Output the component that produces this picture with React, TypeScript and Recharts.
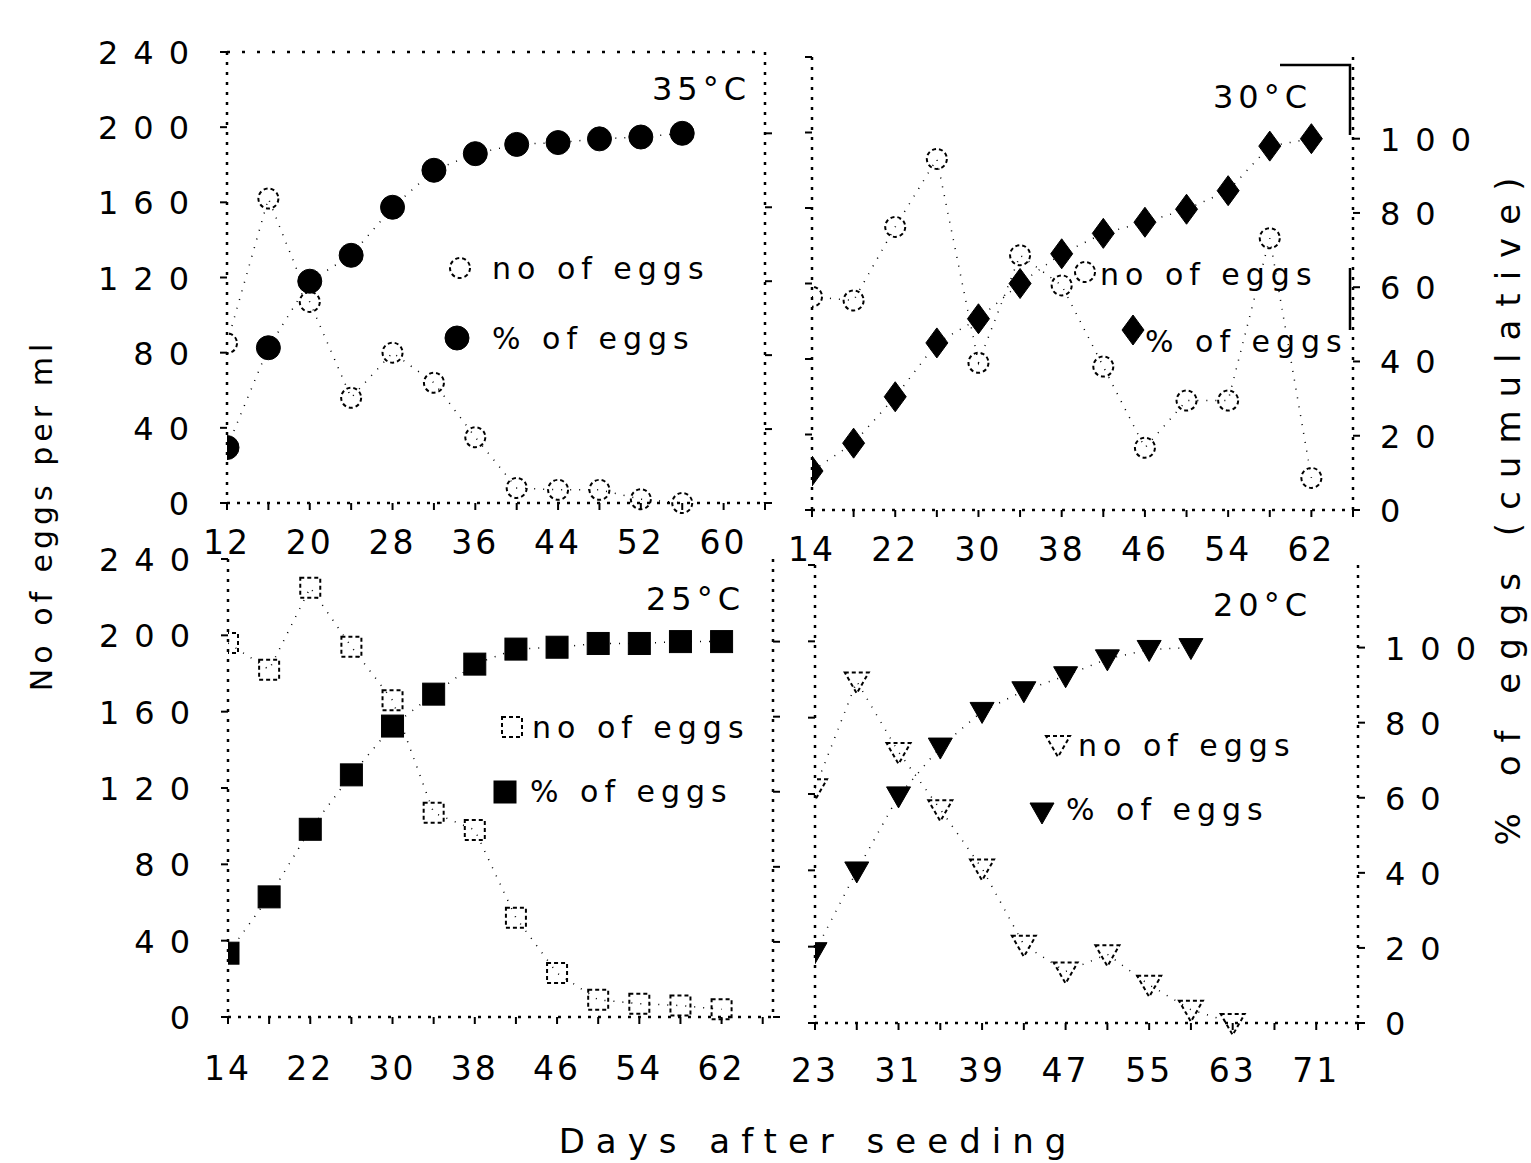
import { LineChart, Line, XAxis, YAxis, ReferenceLine } from 'recharts'

// 35°C
const daysTL = [12, 16, 20, 24, 28, 32, 36, 40, 44, 48, 52, 56]
const eggsTL = [85, 162, 107, 56, 80, 64, 35, 8, 7, 7, 2, 0]
const pctTL = [15, 42, 60, 67, 80, 90, 94.5, 97, 97.5, 98.5, 99, 100]

// 30°C
const daysTR = [14, 18, 22, 26, 30, 34, 38, 42, 46, 50, 54, 58, 62]
const eggsTR = [113, 111, 150, 186, 78, 135, 119, 76, 33, 58, 58, 144, 17]
const pctTR = [10.5, 18, 30.5, 45, 51.5, 61, 69, 74.5, 77.5, 81, 86, 98, 100]

// 25°C
const daysBL = [14, 18, 22, 26, 30, 34, 38, 42, 46, 50, 54, 58, 62]
const eggsBL = [196, 182, 225, 194, 166, 107, 98, 52, 23, 9, 7, 6, 4]
const pctBL = [17, 32, 50, 64.5, 77.5, 86, 94, 98, 98.5, 99.5, 99.5, 100, 100]

// 20°C
const daysBR = [23, 27, 31, 35, 39, 43, 47, 51, 55, 59, 63]
const eggsBR = [123, 179, 142, 112, 81, 41, 27, 36, 20, 7, 0]
const pctBR = [19, 40.5, 60.5, 73.5, 83, 88.5, 92.5, 97, 99.5, 100, null]

const xLabelsTL = [12, 20, 28, 36, 44, 52, 60]
const xMinorTL = [12, 16, 20, 24, 28, 32, 36, 40, 44, 48, 52, 56, 60, 64]
const xLabelsTR = [14, 22, 30, 38, 46, 54, 62]
const xMinorTR = [14, 18, 22, 26, 30, 34, 38, 42, 46, 50, 54, 58, 62, 66]
const xLabelsBL = [14, 22, 30, 38, 46, 54, 62]
const xMinorBL = [14, 18, 22, 26, 30, 34, 38, 42, 46, 50, 54, 58, 62, 66]
const xLabelsBR = [23, 31, 39, 47, 55, 63, 71]
const xMinorBR = [23, 27, 31, 35, 39, 43, 47, 51, 55, 59, 63, 67, 71, 75]

const eggTicks = [0, 40, 80, 120, 160, 200, 240]
const pctTicks = [0, 20, 40, 60, 80, 100]

const FONT = '"DejaVu Sans", sans-serif'

type Shape = 'circle' | 'diamond' | 'square' | 'tri'

function shapeEl(shape: Shape, cx: number, cy: number, filled: boolean, key?: string) {
  const common = filled
    ? { fill: '#000', stroke: '#000', strokeWidth: 1 }
    : { fill: 'none', stroke: '#000', strokeWidth: 2, strokeDasharray: '4 3' }
  if (shape === 'circle') return <circle key={key} cx={cx} cy={cy} r={filled ? 12 : 10} {...common} />
  if (shape === 'square') {
    const s = filled ? 11 : 10
    return <rect key={key} x={cx - s} y={cy - s} width={2 * s} height={2 * s} {...common} />
  }
  if (shape === 'diamond') {
    const w = filled ? 11 : 9
    const h = filled ? 15 : 12
    return <path key={key} d={`M${cx},${cy - h}L${cx + w},${cy}L${cx},${cy + h}L${cx - w},${cy}Z`} {...common} />
  }
  return <path key={key} d={`M${cx - 12},${cy - 9}L${cx + 12},${cy - 9}L${cx},${cy + 12}Z`} {...common} />
}

function dotRenderer(shape: Shape, filled: boolean) {
  return (p: any) => {
    const k = `dot-${filled ? 'f' : 'o'}-${p.index}`
    if (p.cx == null || p.cy == null || p.value == null || isNaN(p.cy)) return <g key={k} />
    return shapeEl(shape, p.cx, p.cy, filled, k)
  }
}

type Panel = {
  days: number[]
  eggs: (number | null)[]
  pct: (number | null)[]
  xLabels: number[]
  xMinor: number[]
  xDomain: [number, number]
  x0: number
  x1: number
  y0: number
  y1: number
  side: 'left' | 'right'
  shape: Shape
  labelDy: number
  topLine?: boolean
}

const panels: Panel[] = [
  { days: daysTL, eggs: eggsTL, pct: pctTL, xLabels: xLabelsTL, xMinor: xMinorTL, xDomain: [12, 64], x0: 227, x1: 765, y0: 52, y1: 503, side: 'left', shape: 'circle', labelDy: 42, topLine: true },
  { days: daysTR, eggs: eggsTR, pct: pctTR, xLabels: xLabelsTR, xMinor: xMinorTR, xDomain: [14, 66], x0: 812, x1: 1353, y0: 57, y1: 510, side: 'right', shape: 'diamond', labelDy: 42 },
  { days: daysBL, eggs: eggsBL, pct: pctBL, xLabels: xLabelsBL, xMinor: xMinorBL, xDomain: [14, 67], x0: 228, x1: 773, y0: 559, y1: 1017, side: 'left', shape: 'square', labelDy: 54 },
  { days: daysBR, eggs: eggsBR, pct: pctBR, xLabels: xLabelsBR, xMinor: xMinorBR, xDomain: [23, 75], x0: 815, x1: 1358, y0: 565, y1: 1023, side: 'right', shape: 'tri', labelDy: 50 },
]

const axisLine = { stroke: '#000', strokeWidth: 2.5, strokeDasharray: '3 7' }
const tickLine = { stroke: '#000', strokeWidth: 2 }

function PanelChart({ p }: { p: Panel }) {
  const M = 40
  const XH = 90
  const LW = p.side === 'left' ? 220 : 40
  const RW = p.side === 'right' ? 160 : 40
  const data = p.days.map((d, i) => ({ day: d, eggs: p.eggs[i], pct: p.pct[i] }))
  const width = LW + (p.x1 - p.x0) + RW
  const height = M + (p.y1 - p.y0) + XH
  return (
    <div style={{ position: 'absolute', left: p.x0 - LW, top: p.y0 - M }}>
      <LineChart width={width} height={height} data={data} margin={{ top: M, right: 0, bottom: 0, left: 0 }}>
        <XAxis
          type="number"
          dataKey="day"
          domain={p.xDomain}
          ticks={p.xMinor}
          allowDataOverflow
          height={XH}
          axisLine={axisLine}
          tickLine={tickLine}
          tickSize={7}
          interval={0}
          tick={(t: any) =>
            p.xLabels.includes(t.payload.value) ? (
              <text key={`xt-${t.payload.value}`} x={t.x} y={t.y + p.labelDy} textAnchor="middle" fontSize={33} letterSpacing={3} fontFamily={FONT} fill="#000">
                {t.payload.value}
              </text>
            ) : (
              <g key={`xt-${t.payload.value}`} />
            )
          }
        />
        <YAxis
          yAxisId="n"
          orientation="left"
          type="number"
          domain={[0, 240]}
          ticks={eggTicks}
          width={LW}
          axisLine={axisLine}
          tickLine={tickLine}
          tickSize={7}
          interval={0}
          tick={(t: any) =>
            p.side === 'left' ? (
              <text key={`yl-${t.payload.value}`} x={t.x - 14} y={t.y + 12} textAnchor="end" fontSize={32} letterSpacing={15} fontFamily={FONT} fill="#000">
                {t.payload.value}
              </text>
            ) : (
              <g key={`yl-${t.payload.value}`} />
            )
          }
        />
        <YAxis
          yAxisId="p"
          orientation="right"
          type="number"
          domain={[0, 122]}
          ticks={pctTicks}
          width={RW}
          axisLine={axisLine}
          tickLine={tickLine}
          tickSize={7}
          interval={0}
          tick={(t: any) =>
            p.side === 'right' ? (
              <text key={`yr-${t.payload.value}`} x={t.x + 18} y={t.y + 12} textAnchor="start" fontSize={32} letterSpacing={15} fontFamily={FONT} fill="#000">
                {t.payload.value}
              </text>
            ) : (
              <g key={`yr-${t.payload.value}`} />
            )
          }
        />
        {p.topLine && <ReferenceLine yAxisId="n" y={240} stroke="#000" strokeWidth={2.5} strokeDasharray="3 12" />}
        <Line
          yAxisId="n"
          dataKey="eggs"
          stroke="#000"
          strokeWidth={1.5}
          strokeDasharray="1 8"
          dot={dotRenderer(p.shape === 'diamond' ? 'circle' : p.shape, false)}
          activeDot={false}
          isAnimationActive={false}
          connectNulls
        />
        <Line
          yAxisId="p"
          dataKey="pct"
          stroke="#000"
          strokeWidth={1.5}
          strokeDasharray="1 8"
          dot={dotRenderer(p.shape, true)}
          activeDot={false}
          isAnimationActive={false}
        />
      </LineChart>
    </div>
  )
}

const txt = { fontFamily: FONT, fill: '#000' }

function Overlay() {
  return (
    <svg width={1531} height={1163} style={{ position: 'absolute', left: 0, top: 0, pointerEvents: 'none' }}>
      {/* temperature labels */}
      <text x={652} y={100} fontSize={32} letterSpacing={5} {...txt}>35°C</text>
      <text x={1213} y={108} fontSize={32} letterSpacing={5} {...txt}>30°C</text>
      <text x={646} y={610} fontSize={32} letterSpacing={5} {...txt}>25°C</text>
      <text x={1213} y={616} fontSize={32} letterSpacing={5} {...txt}>20°C</text>
      <path d="M1280,65H1350V135M1350,268V330" stroke="#000" strokeWidth={2.5} fill="none" />

      {/* legends */}
      {shapeEl('circle', 460, 268, false)}
      <text x={492} y={279} fontSize={30} letterSpacing={6} {...txt}>no of eggs</text>
      {shapeEl('circle', 457, 338, true)}
      <text x={492} y={349} fontSize={30} letterSpacing={6} {...txt}>% of eggs</text>

      {shapeEl('circle', 1085, 272, false)}
      <text x={1100} y={285} fontSize={30} letterSpacing={6} {...txt}>no of eggs</text>
      {shapeEl('diamond', 1133, 330, true)}
      <text x={1145} y={352} fontSize={30} letterSpacing={6} {...txt}>% of eggs</text>

      {shapeEl('square', 512, 727, false)}
      <text x={532} y={738} fontSize={30} letterSpacing={6} {...txt}>no of eggs</text>
      {shapeEl('square', 505, 792, true)}
      <text x={530} y={802} fontSize={30} letterSpacing={6} {...txt}>% of eggs</text>

      {shapeEl('tri', 1058, 745, false)}
      <text x={1078} y={756} fontSize={30} letterSpacing={6} {...txt}>no of eggs</text>
      {shapeEl('tri', 1042, 812, true)}
      <text x={1066} y={820} fontSize={30} letterSpacing={6} {...txt}>% of eggs</text>

      {/* axis titles */}
      <text x={818} y={1153} textAnchor="middle" fontSize={34} letterSpacing={11} {...txt}>Days after seeding</text>
      <text transform="translate(52,515) rotate(-90)" textAnchor="middle" fontSize={30} letterSpacing={5} {...txt}>No of eggs per ml</text>
      <text transform="translate(1520,505) rotate(-90)" textAnchor="middle" fontSize={34} letterSpacing={13} {...txt}>% of eggs (cumulative)</text>
    </svg>
  )
}

export default function App() {
  return (
    <div style={{ position: 'absolute', left: 0, top: 0, width: 1531, height: 1163, background: '#fff', overflow: 'hidden' }}>
      {panels.map((p, i) => (
        <PanelChart key={i} p={p} />
      ))}
      <Overlay />
    </div>
  )
}
